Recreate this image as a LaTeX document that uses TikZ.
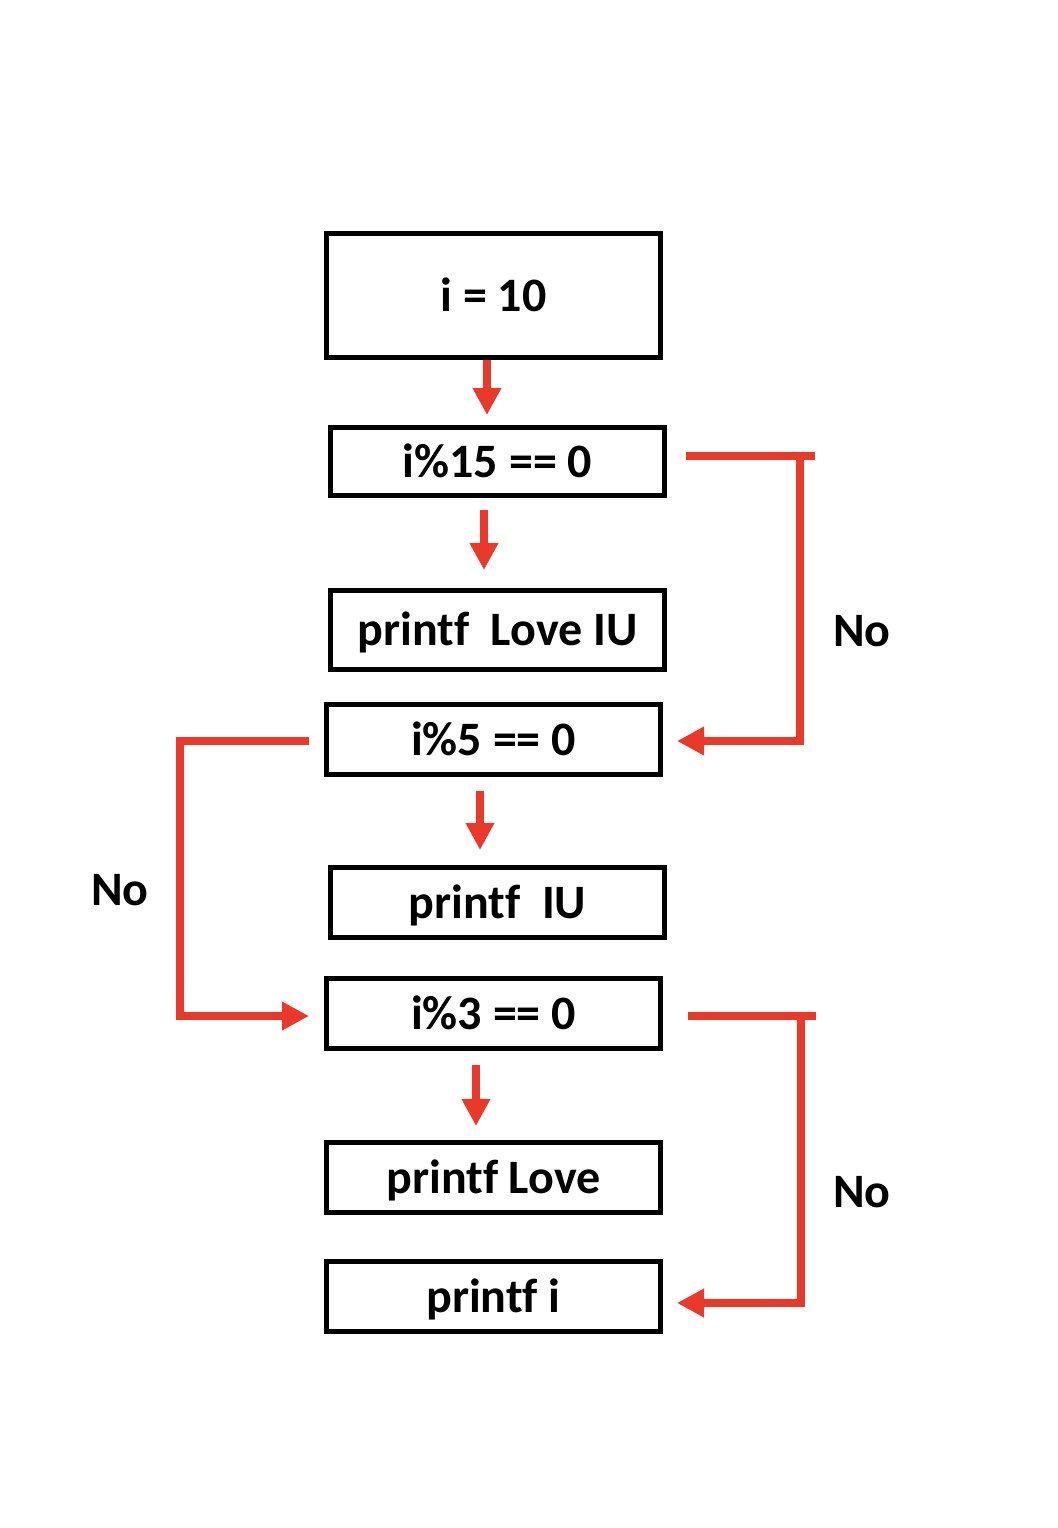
\documentclass[tikz,border=0pt]{standalone}
\usepackage{fontspec}
\setmainfont{Carlito}[Ligatures=NoCommon]
\usepackage{tikz}
\usetikzlibrary{arrows.meta,positioning}
\definecolor{flowred}{RGB}{232,57,42}

\begin{document}
\begin{tikzpicture}[
		>={Triangle[length=13.5pt,width=13.5pt]},
		box/.style={
			draw,
			line width=2.5pt,
			minimum width=167pt,
			minimum height=35pt,
			inner sep=0pt,
			text height=15.5pt,
			text depth=0pt,
			align=center,
			font=\fontsize{24}{28}\selectfont\bfseries
		},
		flow/.style={
			draw=flowred,
			line width=4.2pt
		},
		lbl/.style={
			font=\fontsize{24}{28}\selectfont\bfseries
		}
		]
		\useasboundingbox (0,0) rectangle (529pt,-764pt);
		
		% Steps down the middle
		\node[box, minimum height=62pt] (init) at (246.75pt,-147.75pt) {i = 10};
		\node[box, below=32.5pt of init, xshift=2pt, minimum height=34pt] (mod15) {i\%15 == 0};
		\node[box, below=45pt of mod15, minimum height=39.5pt] (loveiu) {printf\ \ Love IU};
		\node[box, below=15pt of loveiu, xshift=-2pt] (mod5) {i\%5 == 0};
		\node[box, below=44pt of mod5, xshift=2pt] (iu) {printf\ \ IU};
		\node[box, below=18pt of iu, xshift=-2pt] (mod3) {i\%3 == 0};
		\node[box, below=44.5pt of mod3] (love) {printf Love};
		\node[box, below=22pt of love] (pri) {printf i};
		
		% Yes arrows
		\draw[flow, ->, shorten >=5pt] ([xshift=-3.25pt]init.south) -- ([xshift=-5.25pt]mod15.north);
		\draw[flow, ->, shorten <=6pt, shorten >=9pt] ([xshift=-6.75pt]mod15.south) -- ([xshift=-6.75pt]loveiu.north);
		\draw[flow, ->, shorten <=7pt, shorten >=7.5pt] ([xshift=-6.75pt]mod5.south) -- ([xshift=-8.75pt]iu.north);
		\draw[flow, ->, shorten <=7pt, shorten >=7pt] ([xshift=-8.75pt]mod3.south) -- ([xshift=-8.75pt]love.north);
		
		% No branches
		\draw[flow] ([xshift=9.5pt,yshift=2.75pt]mod15.east) -- ([xshift=74pt,yshift=2.75pt]mod15.east);
		\draw[flow, ->] ([xshift=66.5pt,yshift=2.75pt]mod15.east) |- ([xshift=7pt,yshift=-0.75pt]mod5.east);
		\node[lbl] (no1) at (431pt,-315.5pt) {No};
		
		\draw[flow, ->] ([xshift=-7.5pt,yshift=-0.75pt]mod5.west) -- ++(-64.5pt,0) |- ([xshift=-7.5pt,yshift=-1.25pt]mod3.west);
		\node[lbl] (no2) at (60pt,-445pt) {No};
		
		\draw[flow] ([xshift=12.5pt,yshift=-1.25pt]mod3.east) -- ([xshift=76.5pt,yshift=-1.25pt]mod3.east);
		\draw[flow, ->] ([xshift=69pt,yshift=-1.25pt]mod3.east) |- ([xshift=7pt,yshift=-3.25pt]pri.east);
		\node[lbl] (no3) at (431pt,-596pt) {No};
		
\end{tikzpicture}
\end{document}
